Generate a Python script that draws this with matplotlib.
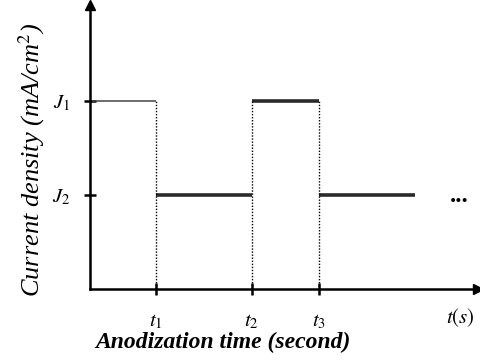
import matplotlib.pyplot as plt

# pulse waveform (arbitrary units)
times = [0, 1.0, 2.45, 3.47, 4.92]
levels = [2.0, 1.0, 2.0, 1.0]
level_names = ['$J_1$', '$J_2$']
time_names = ['$t_1$', '$t_2$', '$t_3$']

plt.rcParams['font.family'] = 'Liberation Serif'
plt.rcParams['mathtext.fontset'] = 'stix'

fig = plt.figure(figsize=(4.8, 3.6), dpi=100)
ax = fig.add_axes([90/480, 71/360, 388/480, 284/360])
ax.set_xlim(0, 388/66)
ax.set_ylim(0, 284/94)

for sp in ['top', 'right']:
    ax.spines[sp].set_visible(False)
for sp in ['left', 'bottom']:
    ax.spines[sp].set_linewidth(1.8)
    ax.spines[sp].set_color('black')

# arrow heads on axes
ax.plot(1, 0, '>', color='black', ms=7, transform=ax.transAxes, clip_on=False)
ax.plot(0, 1, '^', color='black', ms=7, transform=ax.transAxes, clip_on=False)

# steps
for i in range(len(levels)):
    lw = 1.1 if i == 0 else 2.6
    col = '#444444' if i == 0 else '#2a2a2a'
    ax.plot([times[i], times[i+1]], [levels[i], levels[i]], color=col, lw=lw,
            solid_capstyle='butt')

# dotted drops
for i in range(1, 4):
    ax.plot([times[i], times[i]], [0, max(levels[i-1], levels[i])], color='black',
            lw=1.0, ls=(0, (1, 1.2)))

ax.text(times[-1] + 0.68, levels[-1], '...', fontsize=18, fontweight='bold',
        ha='center', va='center')

ax.set_xticks(times[1:4])
ax.set_xticklabels(time_names, fontsize=15)
ax.set_yticks([levels[0], levels[1]])
ax.set_yticklabels(level_names, fontsize=15)
ax.tick_params(axis='both', direction='inout', length=9, width=1.8, color='black')
ax.tick_params(axis='x', pad=12)
ax.tick_params(axis='y', pad=10)

ax.text(0.955, -0.1, '$t(s)$', fontsize=15, transform=ax.transAxes,
        ha='center', va='center')

fig.text(0.066, 0.556, 'Current density (mA/cm$^2$)', rotation=90, style='italic',
         fontsize=19, ha='center', va='center')
fig.text(0.465, 0.05, 'Anodization time (second)', style='italic', fontweight='bold',
         fontsize=17, ha='center', va='center')

fig.savefig('out.png', dpi=100)
